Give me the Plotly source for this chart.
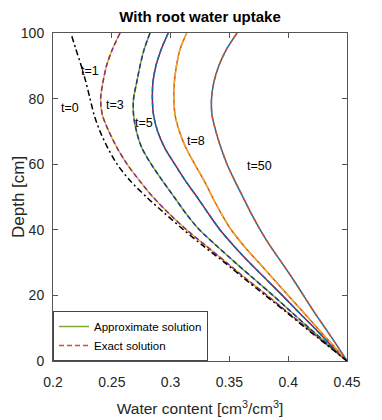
import plotly.graph_objects as go

depth = [100, 95, 90, 85, 80, 75, 70, 65, 60, 55, 50, 45, 40, 35, 30, 25, 20, 15, 10, 5, 0]
depth_t0 = [99, 95, 90, 85, 80, 75, 70, 65, 60, 55, 50, 45, 40, 35, 30, 25, 20, 15, 10, 5, 0]

# water content [cm3/cm3]
theta_t0 = [0.216, 0.2195, 0.224, 0.228, 0.2315, 0.235, 0.240, 0.2465, 0.2545, 0.2655,
            0.2795, 0.295, 0.311, 0.328, 0.346, 0.363, 0.3805, 0.398, 0.415, 0.4325, 0.45]
theta_t1 = [0.257, 0.2505, 0.2455, 0.2425, 0.2405, 0.242, 0.2475, 0.2545, 0.263, 0.2735,
            0.285, 0.2985, 0.3135, 0.3305, 0.3475, 0.3645, 0.382, 0.399, 0.416, 0.433, 0.45]
theta_t3 = [0.2825, 0.2775, 0.274, 0.2712, 0.2685, 0.2685, 0.271, 0.2755, 0.2835, 0.293,
            0.303, 0.313, 0.3245, 0.3395, 0.355, 0.371, 0.387, 0.4025, 0.418, 0.434, 0.45]
theta_t5 = [0.298, 0.292, 0.2875, 0.285, 0.2845, 0.2855, 0.289, 0.295, 0.3035, 0.3125,
            0.3225, 0.332, 0.342, 0.354, 0.367, 0.381, 0.395, 0.4085, 0.4225, 0.436, 0.45]
theta_t8 = [0.3137, 0.308, 0.305, 0.3032, 0.3028, 0.3038, 0.3075, 0.313, 0.3205, 0.3285,
            0.3355, 0.343, 0.3515, 0.3625, 0.375, 0.3875, 0.400, 0.4125, 0.425, 0.4375, 0.45]
theta_t50 = [0.3565, 0.3475, 0.341, 0.3368, 0.3348, 0.3352, 0.3385, 0.3428, 0.348, 0.3545,
             0.3615, 0.3685, 0.3762, 0.3848, 0.3945, 0.404, 0.413, 0.422, 0.4315, 0.441, 0.45]

# (profile, solid colour, dashed colour)
profiles = [
    (theta_t1, "#EDB120", "#7E2F8E"),
    (theta_t3, "#77AC30", "#24378F"),
    (theta_t5, "#A2142F", "#0072BD"),
    (theta_t8, "#D95319", "#EDB120"),
    (theta_t50, "#0072BD", "#D95319"),
]

# time labels and where they sit
label_text = ["t=0", "t=1", "t=3", "t=5", "t=8", "t=50"]
label_x = [0.2145, 0.2315, 0.2527, 0.2774, 0.3216, 0.376]
label_y = [77, 88.4, 78, 72.6, 67.1, 59.5]

FONT = "Liberation Sans, Arial, sans-serif"

fig = go.Figure()

for i, (theta, c_solid, c_dash) in enumerate(profiles):
    fig.add_trace(go.Scatter(
        x=theta, y=depth, mode="lines",
        line=dict(color=c_solid, width=1.5, shape="spline", smoothing=0.8),
        name="Approximate solution", showlegend=(i == 1), legendrank=1,
    ))
    fig.add_trace(go.Scatter(
        x=theta, y=depth, mode="lines",
        line=dict(color=c_dash, width=1.5, dash="5px,3px", shape="spline", smoothing=0.8),
        name="Exact solution", showlegend=(i == 4), legendrank=2,
    ))

fig.add_trace(go.Scatter(
    x=theta_t0, y=depth_t0, mode="lines",
    line=dict(color="black", width=1.5, dash="6px,3px,2px,3px", shape="spline", smoothing=0.8),
    showlegend=False,
))

for txt, lx, ly in zip(label_text, label_x, label_y):
    fig.add_annotation(x=lx, y=ly, text=txt, showarrow=False,
                       font=dict(family=FONT, size=12.5, color="black"))

# y axis title as an annotation so it can sit close to the page edge
fig.add_annotation(x=0, y=0.5, xref="paper", yref="paper", text="Depth [cm]",
                   textangle=-90, showarrow=False, xanchor="center", xshift=-35,
                   font=dict(family=FONT, size=17, color="#262626"))

axis_common = dict(
    showline=True, linecolor="#555", linewidth=1, mirror="ticks",
    ticks="inside", ticklen=5, tickcolor="#555", showgrid=False, zeroline=False,
    automargin=False,
    tickfont=dict(family=FONT, size=14, color="#262626"),
)

# the page body adds 8px around the figure, so the figure is 8px smaller
fig.update_layout(
    width=374, height=412,
    margin=dict(l=45, r=35, t=25, b=59),
    paper_bgcolor="white", plot_bgcolor="white",
    title=dict(text="<b>With root water uptake</b>", x=0.5, xref="paper",
               y=1 - 9 / 412, yref="container", yanchor="middle",
               font=dict(family=FONT, size=15, color="black")),
    xaxis=dict(range=[0.2, 0.45], tickvals=[0.2, 0.25, 0.3, 0.35, 0.4, 0.45],
               ticktext=["0.2", "0.25", "0.3", "0.35", "0.4", "0.45"],
               ticklabelstandoff=8,
               title=dict(text="Water content [cm<sup>3</sup>/cm<sup>3</sup>]",
                          font=dict(family=FONT, size=15.5, color="#262626"),
                          standoff=14),
               **axis_common),
    yaxis=dict(range=[0, 100], tickvals=[0, 20, 40, 60, 80, 100],
               ticklabelstandoff=5,
               **axis_common),
    legend=dict(x=0, y=0, xanchor="left", yanchor="bottom",
                bgcolor="white", bordercolor="#444", borderwidth=1,
                font=dict(family=FONT, size=11.5, color="black"),
                tracegroupgap=0),
)

fig.write_html("out.html")
